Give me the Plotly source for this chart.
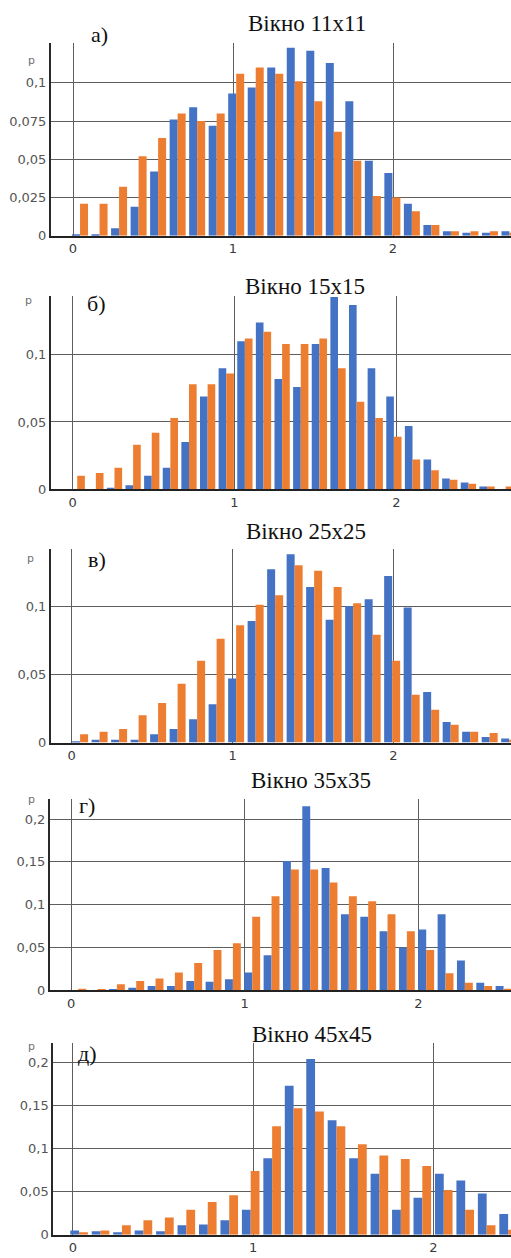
import numpy as np
import plotly.graph_objects as go

W, H = 511, 1258

titles = ["Вікно 11x11", "Вікно 15x15", "Вікно 25x25", "Вікно 35x35", "Вікно 45x45"]
panel_labels = ["а)", "б)", "в)", "г)", "д)"]
y_name = "p"

# ---- data (probabilities per histogram bin) ----
a_blue = [0.001, 0.001, 0.005, 0.019, 0.042, 0.076, 0.084, 0.072, 0.093, 0.097, 0.110, 0.123,
          0.121, 0.113, 0.088, 0.049, 0.041, 0.021, 0.007, 0.003, 0.002, 0.002, 0.003]
a_orange = [0.021, 0.021, 0.032, 0.052, 0.064, 0.080, 0.075, 0.080, 0.106, 0.110, 0.106, 0.101,
            0.088, 0.068, 0.049, 0.026, 0.025, 0.016, 0.007, 0.003, 0.003, 0.003, 0.002]

b_blue = [0.000, 0.000, 0.001, 0.003, 0.010, 0.016, 0.035, 0.069, 0.090, 0.110, 0.124, 0.082,
          0.076, 0.108, 0.143, 0.137, 0.090, 0.069, 0.047, 0.022, 0.008, 0.005, 0.002, 0.000]
b_orange = [0.010, 0.012, 0.016, 0.033, 0.042, 0.053, 0.078, 0.078, 0.086, 0.112, 0.117, 0.108,
            0.108, 0.112, 0.090, 0.065, 0.053, 0.039, 0.022, 0.014, 0.007, 0.004, 0.002, 0.002]

c_blue = [0.001, 0.002, 0.002, 0.002, 0.006, 0.010, 0.017, 0.028, 0.047, 0.089, 0.127, 0.138,
          0.114, 0.090, 0.100, 0.105, 0.122, 0.099, 0.037, 0.015, 0.008, 0.004, 0.003]
c_orange = [0.006, 0.008, 0.010, 0.020, 0.029, 0.043, 0.060, 0.076, 0.086, 0.101, 0.108, 0.130,
            0.126, 0.114, 0.102, 0.079, 0.060, 0.035, 0.024, 0.013, 0.008, 0.007, 0.002]

d_blue = [0.000, 0.000, 0.001, 0.003, 0.005, 0.005, 0.011, 0.010, 0.013, 0.021, 0.041, 0.151,
          0.215, 0.143, 0.089, 0.086, 0.069, 0.050, 0.071, 0.089, 0.035, 0.009, 0.005]
d_orange = [0.002, 0.001, 0.007, 0.011, 0.014, 0.021, 0.032, 0.047, 0.055, 0.086, 0.110, 0.141,
            0.141, 0.126, 0.110, 0.104, 0.089, 0.069, 0.047, 0.020, 0.009, 0.005, 0.002]

e_blue = [0.005, 0.004, 0.003, 0.005, 0.004, 0.011, 0.012, 0.017, 0.029, 0.089, 0.173, 0.204,
          0.133, 0.089, 0.071, 0.029, 0.043, 0.071, 0.063, 0.048, 0.024]
e_orange = [0.003, 0.005, 0.011, 0.017, 0.020, 0.029, 0.038, 0.046, 0.074, 0.126, 0.147, 0.143,
            0.126, 0.105, 0.092, 0.088, 0.080, 0.052, 0.029, 0.011, 0.006]

y_ticks_a = [0, 0.025, 0.05, 0.075, 0.1]
y_text_a = ["0", "0,025", "0,05", "0,075", "0,1"]
y_ticks_bc = [0, 0.05, 0.1]
y_text_bc = ["0", "0,05", "0,1"]
y_ticks_de = [0, 0.05, 0.1, 0.15, 0.2]
y_text_de = ["0", "0,05", "0,1", "0,15", "0,2"]
x_ticks = [0, 1, 2]
x_text = ["0", "1", "2"]

# ---- geometry / styling (pixels in the 511x1258 page) ----
panels = [
    dict(blue=a_blue, orange=a_orange, yt=y_ticks_a, ytx=y_text_a,
         bin0=0.044, step=0.122, xr=[-0.1375, 2.7375], yr=[0, 0.1262],
         left=51, top=43, bottom=237.3, title=(307, 24), label=(99, 35), p=(31, 61)),
    dict(blue=b_blue, orange=b_orange, yt=y_ticks_bc, ytx=y_text_bc,
         bin0=0.029, step=0.115, xr=[-0.133, 2.707], yr=[0, 0.1436],
         left=51, top=298, bottom=492.3, title=(305, 288), label=(96, 305), p=(28, 302)),
    dict(blue=c_blue, orange=c_orange, yt=y_ticks_bc, ytx=y_text_bc,
         bin0=0.052, step=0.1213, xr=[-0.129, 2.732], yr=[0, 0.1415],
         left=51, top=553, bottom=747.3, title=(306, 535), label=(97, 563), p=(30, 562)),
    dict(blue=d_blue, orange=d_orange, yt=y_ticks_de, ytx=y_text_de,
         bin0=0.0415, step=0.1113, xr=[-0.121, 2.533], yr=[0, 0.2236],
         left=50, top=804, bottom=996.7, title=(311, 785), label=(87, 811), p=(31, 805)),
    dict(blue=e_blue, orange=e_orange, yt=y_ticks_de, ytx=y_text_de,
         bin0=0.035, step=0.119, xr=[-0.108, 2.431], yr=[0, 0.2223],
         left=53.3, top=1050, bottom=1242.7, title=(312, 1041), label=(87, 1060), p=(31, 1053)),
]

BLUE = "#4472C4"
ORANGE = "#ED7D31"

fig = go.Figure()
annotations = []
layout_axes = {}

for i, pnl in enumerate(panels):
    n = i + 1
    xs = "x" if n == 1 else f"x{n}"
    ys = "y" if n == 1 else f"y{n}"
    bins = pnl["bin0"] + pnl["step"] * np.arange(len(pnl["blue"]))
    fig.add_trace(go.Bar(x=bins, y=pnl["blue"], marker=dict(color=BLUE, line=dict(width=0)),
                         xaxis=xs, yaxis=ys, offsetgroup="b", showlegend=False))
    fig.add_trace(go.Bar(x=bins, y=pnl["orange"], marker=dict(color=ORANGE, line=dict(width=0)),
                         xaxis=xs, yaxis=ys, offsetgroup="o", showlegend=False))

    xkey = "xaxis" if n == 1 else f"xaxis{n}"
    ykey = "yaxis" if n == 1 else f"yaxis{n}"
    layout_axes[xkey] = dict(
        domain=[pnl["left"] / W, 1], anchor=ys, range=pnl["xr"],
        tickvals=x_ticks, ticktext=x_text, ticks="",
        tickfont=dict(family="DejaVu Sans", size=13, color="#3a3a3a"),
        showgrid=True, gridcolor="#5e5e5e", gridwidth=1.4,
        showline=True, linecolor="#222222", linewidth=2,
        zeroline=False, fixedrange=True,
    )
    layout_axes[ykey] = dict(
        domain=[1 - pnl["bottom"] / H, 1 - pnl["top"] / H], anchor=xs, range=pnl["yr"],
        tickvals=pnl["yt"], ticktext=pnl["ytx"], ticks="",
        tickfont=dict(family="DejaVu Sans", size=13, color="#555555"),
        showgrid=True, gridcolor="#5e5e5e", gridwidth=1.4,
        showline=True, linecolor="#2a2a2a", linewidth=2,
        zeroline=False, fixedrange=True,
    )
    tx, ty = pnl["title"]
    annotations.append(dict(text=titles[i], x=tx / W, y=1 - ty / H, xref="paper", yref="paper",
                            xanchor="center", yanchor="middle", showarrow=False,
                            font=dict(family="Liberation Serif", size=23, color="#111111")))
    lx, ly = pnl["label"]
    annotations.append(dict(text=panel_labels[i], x=lx / W, y=1 - ly / H, xref="paper", yref="paper",
                            xanchor="center", yanchor="middle", showarrow=False,
                            font=dict(family="Liberation Serif", size=22, color="#111111")))
    px_, py_ = pnl["p"]
    annotations.append(dict(text=y_name, x=px_ / W, y=1 - py_ / H, xref="paper", yref="paper",
                            xanchor="center", yanchor="middle", showarrow=False,
                            font=dict(family="DejaVu Sans", size=11, color="#707070")))

fig.update_layout(
    width=W, height=H, margin=dict(l=0, r=0, t=0, b=0),
    paper_bgcolor="white", plot_bgcolor="white",
    barmode="group", bargap=0.18, bargroupgap=0.0,
    annotations=annotations, showlegend=False,
    **layout_axes,
)

fig.write_html("out.html")
